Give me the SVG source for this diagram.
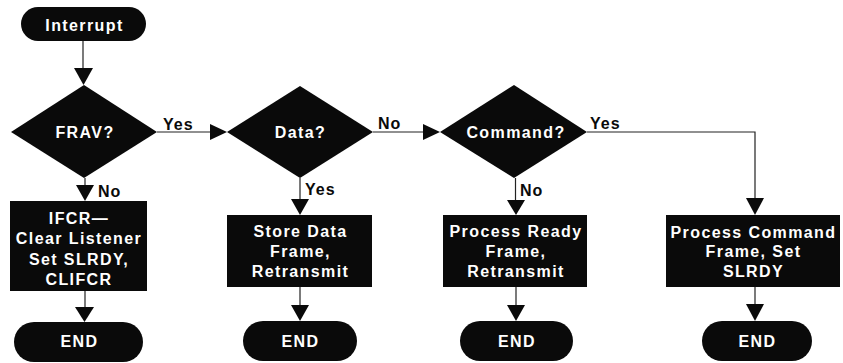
<svg xmlns="http://www.w3.org/2000/svg" width="843" height="363" viewBox="0 0 843 363">
<style>
  .shape { fill: #0a0a0a; }
  .in { fill: #ffffff; font-family: "Liberation Sans", Arial, sans-serif; font-weight: bold; font-size: 16px; letter-spacing: 1.4px; text-anchor: middle; }
  .lbl { fill: #0a0a0a; font-family: "Liberation Sans", Arial, sans-serif; font-weight: bold; font-size: 16px; letter-spacing: 1px; }
  .wire { fill: none; stroke: #222; stroke-width: 1.2; }
  .head { fill: #0a0a0a; }
</style>
<rect width="843" height="363" fill="#ffffff"/>

<g id="connectors">
  <path class="wire" d="M83 41 V68"/>
  <polygon class="head" points="74,68 93,68 83.5,85"/>
  <path class="wire" d="M157 132 H210"/>
  <polygon class="head" points="210,124 210,140 227,132"/>
  <path class="wire" d="M373 132 H423"/>
  <polygon class="head" points="423,124 423,140 440,132"/>
  <path class="wire" d="M587 132 H755 V198"/>
  <polygon class="head" points="746,198 764,198 755,215"/>
  <path class="wire" d="M85 178 V185"/>
  <polygon class="head" points="76,185 94,185 85,201"/>
  <path class="wire" d="M300 178 V199"/>
  <polygon class="head" points="291,199 309,199 300,215"/>
  <path class="wire" d="M515.5 178 V200"/>
  <polygon class="head" points="507,200 525,200 516,215"/>
  <path class="wire" d="M85 291 V307"/>
  <polygon class="head" points="75,307 94,307 84.5,322"/>
  <path class="wire" d="M300 287 V305"/>
  <polygon class="head" points="291,305 309,305 300,321"/>
  <path class="wire" d="M516 287 V305"/>
  <polygon class="head" points="507,305 525,305 516,321"/>
  <path class="wire" d="M755 287 V304"/>
  <polygon class="head" points="746,304 764,304 755,321"/>
  <text class="lbl" x="163" y="130">Yes</text>
  <text class="lbl" x="378" y="129">No</text>
  <text class="lbl" x="590" y="129">Yes</text>
  <text class="lbl" x="98" y="197">No</text>
  <text class="lbl" x="305" y="195">Yes</text>
  <text class="lbl" x="520" y="196">No</text>
</g>

<g id="interrupt">
  <rect class="shape" x="21" y="7" width="125" height="34" rx="17"/>
  <text class="in" x="84.5" y="31">Interrupt</text>
</g>

<g id="frav">
  <polygon class="shape" points="84,85 157,132 84,178 11,132"/>
  <text class="in" x="85" y="138">FRAV?</text>
</g>

<g id="data">
  <polygon class="shape" points="300,86 373,132 300,178 227,132"/>
  <text class="in" x="300.5" y="138">Data?</text>
</g>

<g id="command">
  <polygon class="shape" points="514,85 587,132 514,178 440,132"/>
  <text class="in" x="516" y="138">Command?</text>
</g>

<g id="ifcr">
  <rect class="shape" x="10" y="201" width="137" height="90"/>
  <text class="in" x="79" y="224">IFCR—</text>
  <text class="in" x="79" y="244">Clear Listener</text>
  <text class="in" x="79" y="265">Set SLRDY,</text>
  <text class="in" x="79" y="285">CLIFCR</text>
</g>

<g id="store">
  <rect class="shape" x="227" y="215" width="145" height="72"/>
  <text class="in" x="300.5" y="237">Store Data</text>
  <text class="in" x="300.5" y="257">Frame,</text>
  <text class="in" x="300.5" y="277">Retransmit</text>
</g>

<g id="ready">
  <rect class="shape" x="443" y="215" width="144" height="72"/>
  <text class="in" x="516" y="237">Process Ready</text>
  <text class="in" x="516" y="257">Frame,</text>
  <text class="in" x="516" y="277">Retransmit</text>
</g>

<g id="cmdframe">
  <rect class="shape" x="666" y="215" width="174" height="72"/>
  <text class="in" x="753.5" y="238">Process Command</text>
  <text class="in" x="753.5" y="257">Frame, Set</text>
  <text class="in" x="753.5" y="277">SLRDY</text>
</g>

<g id="end1">
  <rect class="shape" x="14" y="322" width="129" height="40" rx="20"/>
  <text class="in" x="79.5" y="347">END</text>
</g>
<g id="end2">
  <rect class="shape" x="243" y="321" width="114" height="40" rx="20"/>
  <text class="in" x="300.5" y="347">END</text>
</g>
<g id="end3">
  <rect class="shape" x="460" y="321" width="113" height="40" rx="20"/>
  <text class="in" x="517" y="347">END</text>
</g>
<g id="end4">
  <rect class="shape" x="702" y="321" width="110" height="40" rx="20"/>
  <text class="in" x="757.5" y="347">END</text>
</g>
</svg>
